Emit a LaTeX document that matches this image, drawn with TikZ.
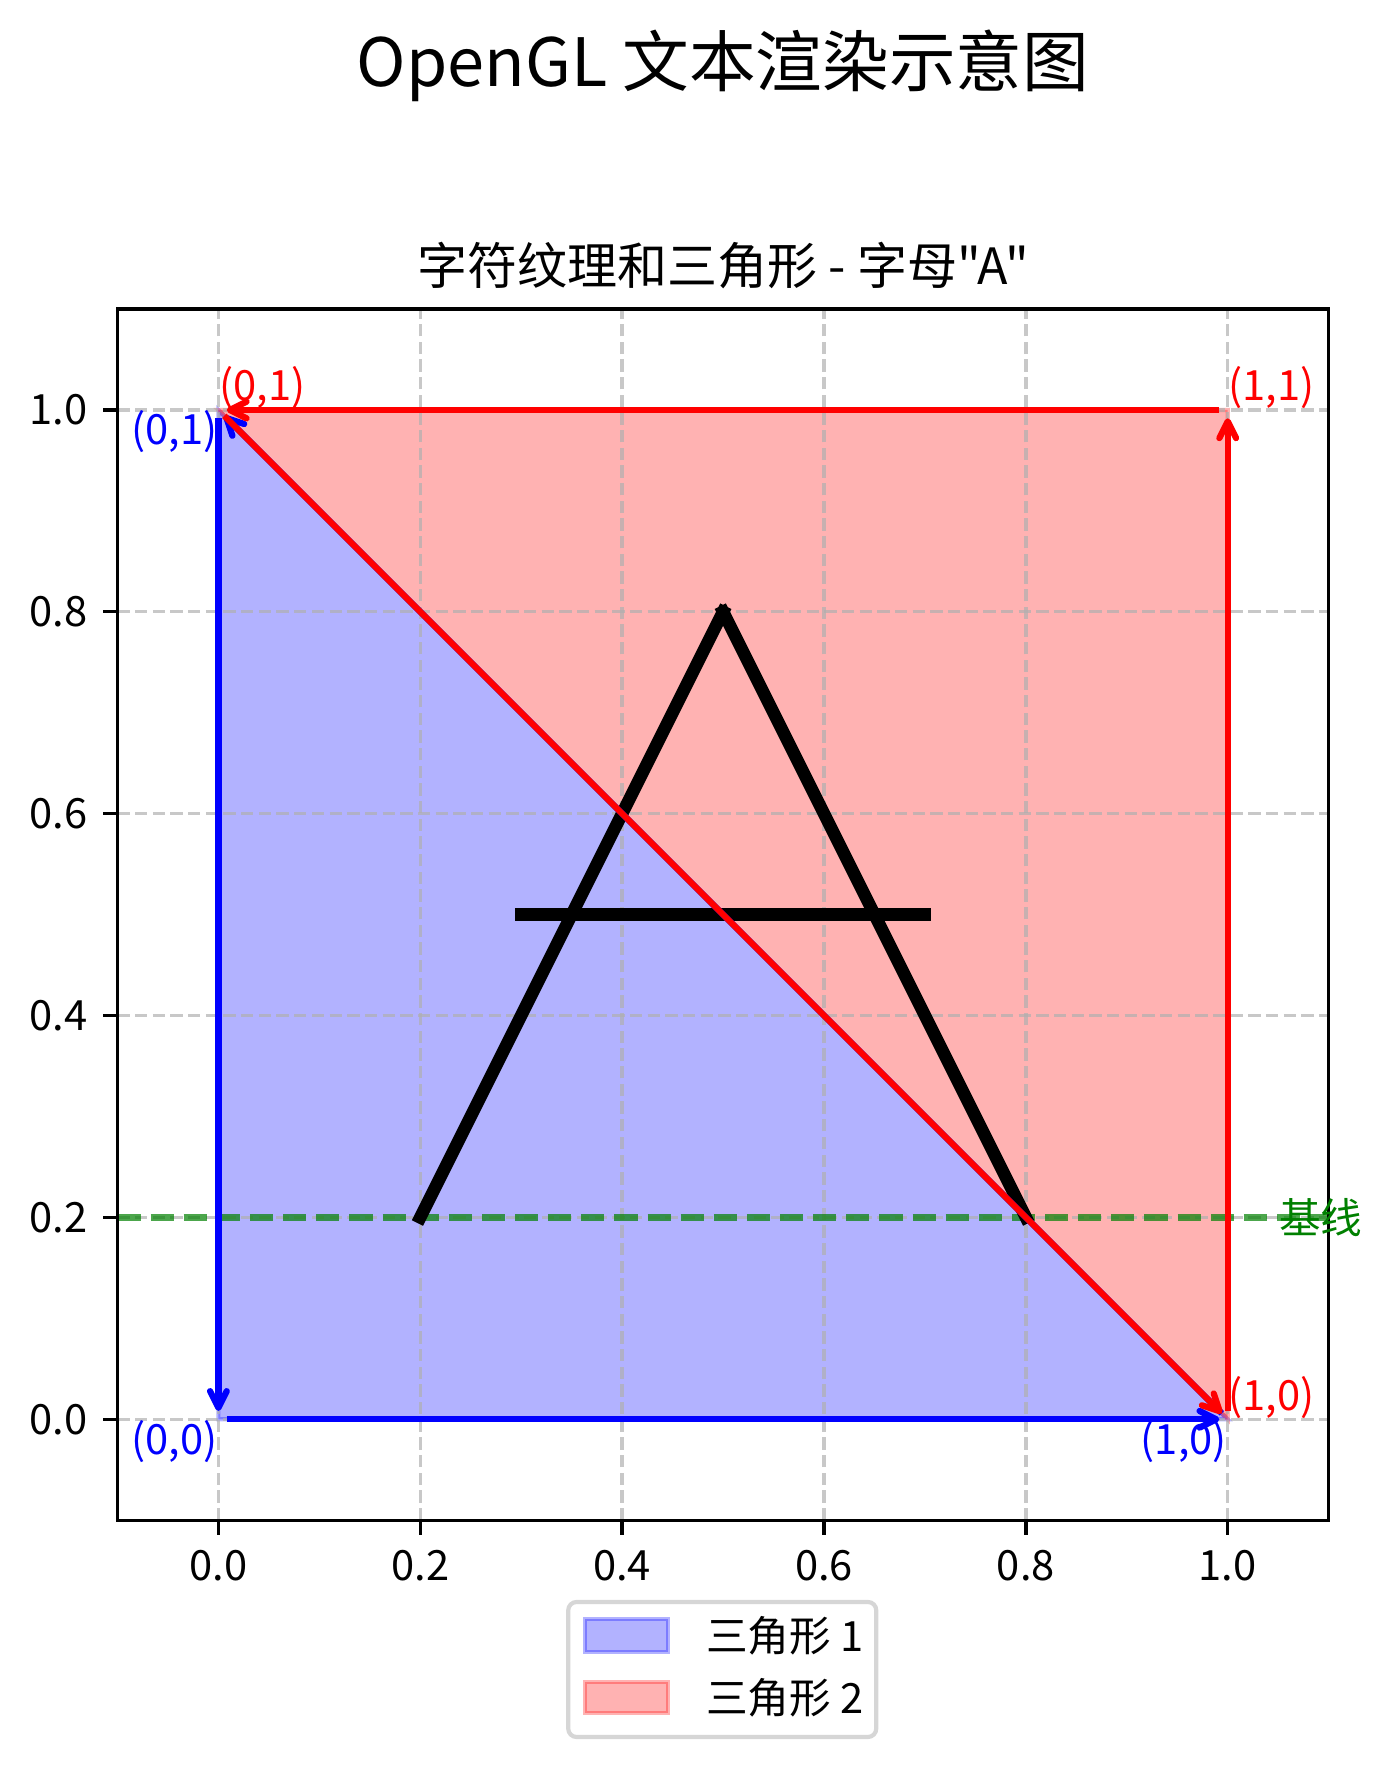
\documentclass[tikz,border=0pt]{standalone}
\usepackage{fontspec}
\setmainfont{Noto Sans CJK SC}
\newfontfamily\plaincjk{Noto Sans CJK SC}
\usepackage{tikz}
\usetikzlibrary{arrows.meta}
\definecolor{gridgray}{HTML}{B0B0B0}
\definecolor{legframe}{HTML}{D6D6D6}
\definecolor{basegreen}{HTML}{008000}

\begin{document}
\begin{tikzpicture}[x=242.2pt,y=242.2pt,font=\fontsize{10pt}{12pt}\selectfont,
  vec/.style={-{Straight Barb[length=4pt,width=4pt,round]},line width=1.5pt,shorten <=2pt,shorten >=2pt},
  tri/.style={fill opacity=0.3,draw opacity=0.3,line width=1pt},
  grd/.style={draw=gridgray,draw opacity=0.7,line width=0.8pt,dash pattern=on 2.96pt off 1.28pt},
  stroke/.style={line width=3pt,line cap=rect},
  lbl/.style={inner sep=0pt}]
\useasboundingbox (-0.2164,-0.3455) rectangle (1.1622,1.4062);

% corners of the quad
\coordinate (p00) at (0,0);
\coordinate (p10) at (1,0);
\coordinate (p01) at (0,1);
\coordinate (p11) at (1,1);

% triangles
\filldraw[tri,fill=blue,draw=blue] (p00) -- (p10) -- (p01) -- cycle;
\filldraw[tri,fill=red,draw=red] (p10) -- (p11) -- (p01) -- cycle;

% grid
\foreach \t in {0,0.2,0.4,0.6,0.8,1}{
  \draw[grd] (\t,-0.1) -- (\t,1.1);
  \draw[grd] (-0.1,\t) -- (1.1,\t);
}

% baseline
\draw[basegreen,opacity=0.7,line width=1.5pt,dash pattern=on 5.55pt off 2.4pt] (-0.1,0.2) -- (1.1,0.2);

% letter A
\draw[stroke] (0.2,0.2) -- (0.5,0.8);
\draw[stroke] (0.5,0.8) -- (0.8,0.2);
\draw[stroke] (0.3,0.5) -- (0.7,0.5);

\path[vec,blue]
(p00) edge (p10)
(p10) edge (p01)
(p01) edge (p00);
\path[vec,red]
(p10) edge (p11)
(p11) edge (p01)
(p01) edge (p10);

% axes
\draw[line width=0.8pt] (-0.1,-0.1) rectangle (1.1,1.1);
\foreach \t/\s [count=\i] in {0/0.0,0.2/0.2,0.4/0.4,0.6/0.6,0.8/0.8,1/1.0}{
  \draw[line width=0.8pt] (\t,-0.1) -- ++(0,-3.5pt);
  \draw[line width=0.8pt] (-0.1,\t) -- ++(-3.5pt,0);
  \node[lbl,anchor=north] (xt\i) at ([yshift=-7pt]\t,-0.1) {\s};
  \node[lbl,anchor=east] (yt\i) at ([xshift=-7pt]-0.1,\t) {\s};
}

% corner labels
\node[lbl,anchor=north east,text=blue] (b00) at (p00) {(0,0)};
\node[lbl,anchor=north east,text=blue] (b10) at (p10) {(1,0)};
\node[lbl,anchor=north east,text=blue] (b01) at (p01) {(0,1)};
\node[lbl,anchor=south west,text=red] (r10) at (p10) {(1,0)};
\node[lbl,anchor=south west,text=red] (r11) at (p11) {(1,1)};
\node[lbl,anchor=south west,text=red] (r01) at (p01) {(0,1)};
\node[lbl,anchor=west,text=basegreen] (base) at (1.05,0.2) {基线};

% titles
\node[anchor=base,font=\fontsize{16pt}{19pt}\selectfont] (title) at (0.5,1.3202) {OpenGL 文本渲染示意图};
\node[anchor=base,font=\plaincjk\fontsize{12pt}{14pt}\selectfont] (subtitle) at (0.5,1.1248) {字符纹理和三角形 - 字母"A"};

% legend
\filldraw[draw=legframe,fill=white,line width=1pt,rounded corners=2pt] (0.3466,-0.1810) rectangle (0.6518,-0.3148);
\filldraw[tri,fill=blue,draw=blue] (0.3634,-0.1979) rectangle (0.4456,-0.2306);
\filldraw[tri,fill=red,draw=red] (0.3634,-0.2603) rectangle (0.4456,-0.2910);
\node[lbl,anchor=west] (leg1) at (0.4824,-0.2142) {三角形 1};
\node[lbl,anchor=west] (leg2) at (0.4824,-0.2756) {三角形 2};
\end{tikzpicture}
\end{document}
